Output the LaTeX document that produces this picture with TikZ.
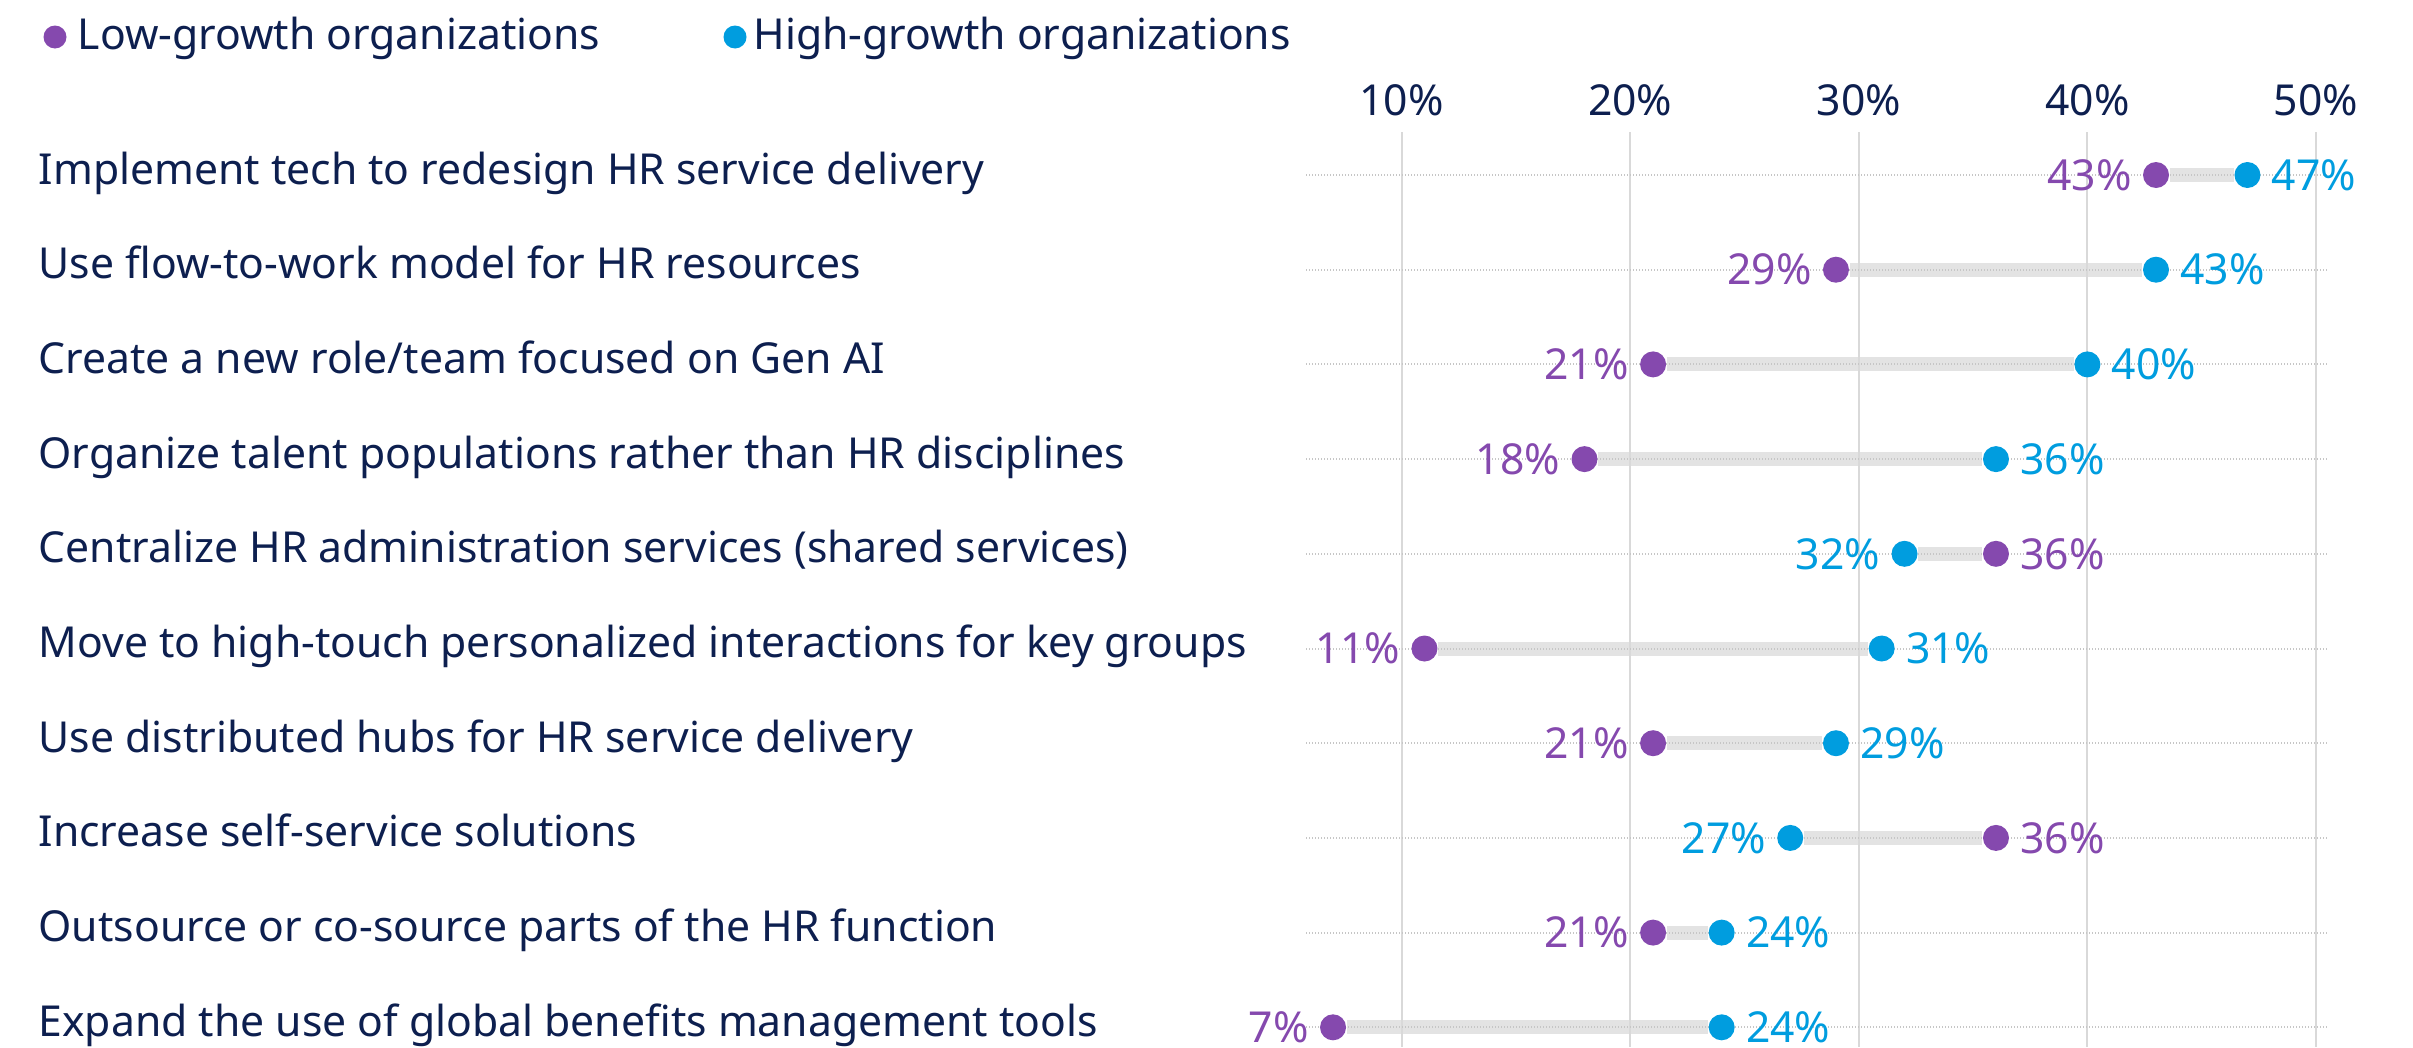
\documentclass[tikz,border=0pt]{standalone}
\usepackage{fontspec}
\setmainfont{Noto Sans}
\usetikzlibrary{backgrounds}

\definecolor{navy}{HTML}{0D1F4F}
\definecolor{lowpurple}{HTML}{8549AE}
\definecolor{highblue}{HTML}{009DDF}
\definecolor{gridgray}{HTML}{D9D9D9}
\definecolor{bargray}{HTML}{E3E3E3}
\definecolor{dotgray}{HTML}{C6C6C6}

\tikzset{
  every node/.style={font=\fontsize{12.8}{15}\selectfont,text=navy},
  lowdot/.style={circle,fill=lowpurple,inner sep=0pt,minimum size=7.8pt},
  highdot/.style={circle,fill=highblue,inner sep=0pt,minimum size=7.8pt},
  lowtext/.style={text=lowpurple,inner sep=0pt},
  hightext/.style={text=highblue,inner sep=0pt},
  gridline/.style={draw=gridgray,line width=0.6pt},
  rowline/.style={draw=dotgray,line width=0.6pt,dash pattern=on 0.3pt off 0.6pt},
  gapbar/.style={draw=bargray,line width=4.2pt}
}

\begin{document}
\begin{tikzpicture}[x=0.3pt,y=-0.3pt]
            \def\zero{1173}
            \def\step{22.86}
            \def\rowTop{175}
            \def\rowGap{94.7}
            \def\lineStart{1306}
            \def\lineEnd{2326}

            \useasboundingbox (0,0) rectangle (2413,1047);

            % legend
            \node[lowdot,minimum size=6.9pt] (legLowDot) at (55,37) {};
            \node[anchor=base west,inner sep=0pt] (legLow) at (77,50) {Low-growth organizations};
            \node[highdot,minimum size=6.9pt] (legHighDot) at (735,37) {};
            \node[anchor=base west,inner sep=0pt] (legHigh) at (753,50) {High-growth organizations};

            % axis
            \foreach \k in {1,...,5} {
                        \draw[gridline] (\zero+\k*10*\step,132) -- (\zero+\k*10*\step,1047);
                        \node[anchor=base,inner sep=0pt] (ax\k) at (\zero+\k*10*\step,115) {\k0\%};
                  }

            % rows
            \foreach \i/\task/\low/\high/\lside/\hside in {
                        1/Implement tech to redesign HR service delivery/43/47/left/right,
                        2/Use flow-to-work model for HR resources/29/43/left/right,
                        3/{Create a new role/team focused on Gen AI}/21/40/left/right,
                        4/Organize talent populations rather than HR disciplines/18/36/left/right,
                        5/Centralize HR administration services (shared services)/36/32/right/left,
                        6/Move to high-touch personalized interactions for key groups/11/31/left/right,
                        7/Use distributed hubs for HR service delivery/21/29/left/right,
                        8/Increase self-service solutions/36/27/right/left,
                        9/Outsource or co-source parts of the HR function/21/24/left/right,
                        10/Expand the use of global benefits management tools/7/24/left/right} {
                        \pgfmathsetmacro\rowY{\rowTop+(\i-1)*\rowGap}
                        \node[anchor=base west,inner sep=0pt] (cat\i) at (38,\rowY+9) {\task};
                        \draw[rowline] (\lineStart,\rowY) -- (\lineEnd,\rowY);
                        \node[lowdot,label={[lowtext,label distance=3pt]\lside:\low\%}] (lo\i) at (\zero+\low*\step,\rowY) {};
                        \node[highdot,label={[hightext,label distance=3pt]\hside:\high\%}] (hi\i) at (\zero+\high*\step,\rowY) {};
                        \begin{scope}[on background layer]
                              \draw[gapbar] (lo\i) -- (hi\i);
                        \end{scope}
                  }
      \end{tikzpicture}
\end{document}
